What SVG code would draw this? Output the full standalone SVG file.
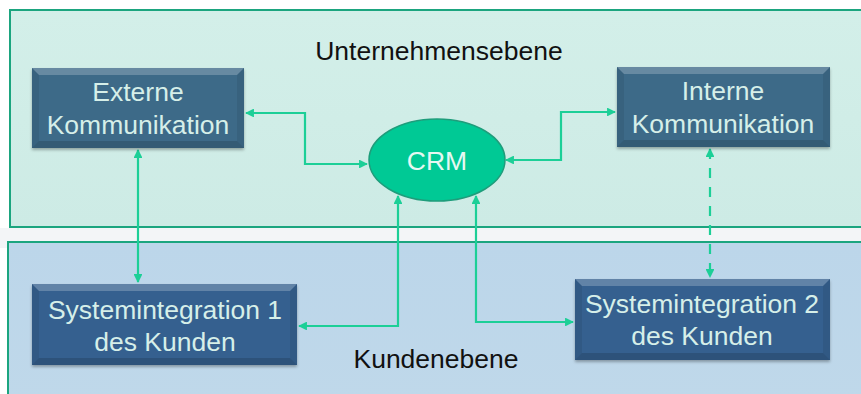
<svg xmlns="http://www.w3.org/2000/svg" width="861" height="394" viewBox="0 0 861 394">
  <defs>
    <style>
      .lbl { font-family: "Liberation Sans", Arial, sans-serif; font-size: 26.5px; text-anchor: middle; }
      .box-text { fill: #d6efe9; }
      .level { fill: #111111; }
      .conn { fill: none; stroke: #1ccf97; stroke-width: 2.2; marker-start: url(#arr); marker-end: url(#arr); }
      .dash { stroke-dasharray: 10 9; }
      .hi { fill: #ffffff; opacity: 0.22; }
      .lo { fill: #000000; opacity: 0.14; }
      .side { fill: #000000; opacity: 0.07; }
    </style>
    <marker id="arr" viewBox="0 0 10 10" refX="9" refY="5" markerWidth="4" markerHeight="4" orient="auto-start-reverse" markerUnits="strokeWidth">
      <path d="M0,0 L10,5 L0,10 Z" fill="#1ccf97"/>
    </marker>
    <linearGradient id="topBand" x1="0" y1="0" x2="0" y2="1">
      <stop offset="0" stop-color="#d3efe9"/>
      <stop offset="1" stop-color="#cdebe5"/>
    </linearGradient>
    <linearGradient id="lowBand" x1="0" y1="0" x2="0" y2="1">
      <stop offset="0" stop-color="#bcd6ea"/>
      <stop offset="1" stop-color="#bfd8ea"/>
    </linearGradient>
    <filter id="shadow" x="-10%" y="-10%" width="120%" height="130%">
      <feDropShadow dx="0" dy="2" stdDeviation="1.5" flood-color="#000" flood-opacity="0.3"/>
    </filter>
  </defs>

  <!-- page background -->
  <rect x="0" y="0" width="861" height="394" fill="#ffffff"/>
  <rect x="0" y="228" width="861" height="20" fill="#f3f5f7"/>

  <!-- company level band -->
  <g id="unternehmensebene">
    <rect x="10" y="10" width="860" height="217" fill="url(#topBand)" stroke="#1ba57f" stroke-width="2"/>
    <text class="lbl level" x="439" y="60">Unternehmensebene</text>
  </g>

  <!-- customer level band -->
  <g id="kundenebene">
    <rect x="8" y="242" width="862" height="160" fill="url(#lowBand)" stroke="#1ba57f" stroke-width="2"/>
    <text class="lbl level" x="436" y="368">Kundenebene</text>
  </g>

  <!-- connectors -->
  <g id="connectors">
    <polyline class="conn" points="246,113 305,113 305,164 367,164"/>
    <polyline class="conn" points="506,160 561,160 561,112 615,112"/>
    <polyline class="conn" points="138,150 138,282"/>
    <polyline class="conn" points="398,196 398,326 299,326"/>
    <polyline class="conn" points="476,196 476,322 573,322"/>
    <polyline class="conn dash" points="710,149 710,277"/>
  </g>

  <!-- Externe Kommunikation -->
  <g id="externe-kommunikation">
    <g filter="url(#shadow)">
      <rect x="32" y="68" width="212" height="80" fill="#3d6a88"/>
    </g>
    <polygon class="hi" points="32,68 244,68 237,75 39,75"/>
    <polygon class="side" points="32,68 39,75 39,141 32,148"/>
    <polygon class="side" points="244,68 237,75 237,141 244,148"/>
    <polygon class="lo" points="32,148 39,141 237,141 244,148"/>
    <text class="lbl box-text" x="138" y="101">Externe</text>
    <text class="lbl box-text" x="138" y="134">Kommunikation</text>
  </g>

  <!-- Interne Kommunikation -->
  <g id="interne-kommunikation">
    <g filter="url(#shadow)">
      <rect x="617" y="67" width="213" height="80" fill="#3d6a88"/>
    </g>
    <polygon class="hi" points="617,67 830,67 823,74 624,74"/>
    <polygon class="side" points="617,67 624,74 624,140 617,147"/>
    <polygon class="side" points="830,67 823,74 823,140 830,147"/>
    <polygon class="lo" points="617,147 624,140 823,140 830,147"/>
    <text class="lbl box-text" x="723" y="100">Interne</text>
    <text class="lbl box-text" x="723" y="133">Kommunikation</text>
  </g>

  <!-- CRM -->
  <g id="crm">
    <ellipse cx="437" cy="160" rx="68" ry="41" fill="#00c995" stroke="#1e9d7b" stroke-width="1.5"/>
    <text class="lbl" x="437" y="170" fill="#e6f8f2">CRM</text>
  </g>

  <!-- Systemintegration 1 -->
  <g id="systemintegration-1">
    <g filter="url(#shadow)">
      <rect x="32" y="284" width="265" height="81" fill="#34608f"/>
    </g>
    <polygon class="hi" points="32,284 297,284 290,291 39,291"/>
    <polygon class="side" points="32,284 39,291 39,358 32,365"/>
    <polygon class="side" points="297,284 290,291 290,358 297,365"/>
    <polygon class="lo" points="32,365 39,358 290,358 297,365"/>
    <text class="lbl box-text" x="165" y="319">Systemintegration 1</text>
    <text class="lbl box-text" x="165" y="351">des Kunden</text>
  </g>

  <!-- Systemintegration 2 -->
  <g id="systemintegration-2">
    <g filter="url(#shadow)">
      <rect x="575" y="279" width="255" height="81" fill="#34608f"/>
    </g>
    <polygon class="hi" points="575,279 830,279 823,286 582,286"/>
    <polygon class="side" points="575,279 582,286 582,353 575,360"/>
    <polygon class="side" points="830,279 823,286 823,353 830,360"/>
    <polygon class="lo" points="575,360 582,353 823,353 830,360"/>
    <text class="lbl box-text" x="702" y="313">Systemintegration 2</text>
    <text class="lbl box-text" x="702" y="345">des Kunden</text>
  </g>
</svg>
